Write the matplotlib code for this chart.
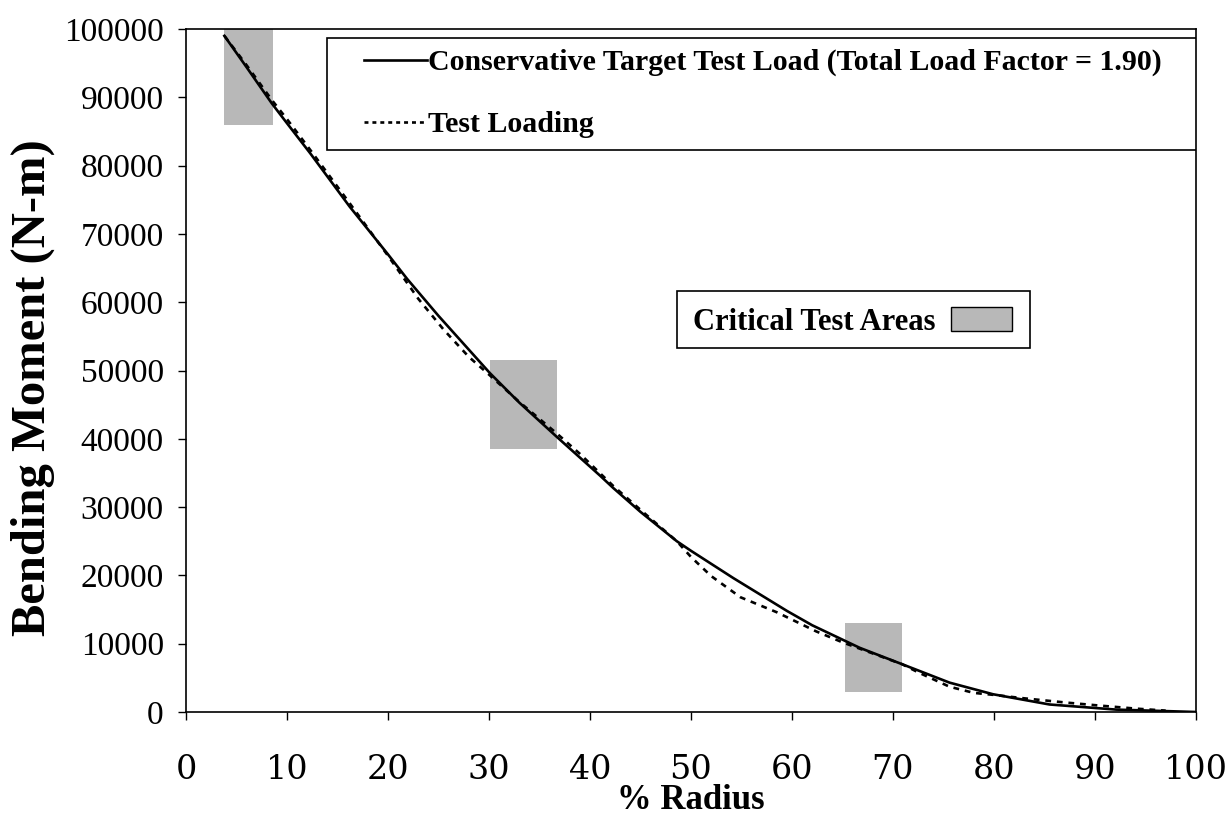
import matplotlib
matplotlib.use("Agg")
import matplotlib.pyplot as plt
from matplotlib.lines import Line2D
from matplotlib.patches import Patch, Rectangle

plt.rcParams["font.family"] = ["Liberation Serif", "DejaVu Serif"]

# Conservative target test load (solid)
target_radius = [3.8, 6, 8.5, 10, 12.3, 16.2, 20, 21.9, 25, 30.1, 33, 36.7, 41, 42.3,
                 45, 48.6, 50, 54.2, 59.5, 62, 66.7, 70.9, 75.6, 79.9, 85.5, 92.1, 100]
target_moment = [99000, 94400, 89100, 86200, 81800, 74000, 67000, 63400, 58000, 49600,
                 45300, 40300, 34600, 32800, 29300, 25000, 23600, 19600, 14800, 12700,
                 9400, 7000, 4300, 2600, 1100, 350, 0]

# Test loading (dashed)
test_radius = [3.8, 6, 8.5, 10, 12.3, 16.2, 20, 23, 25.5, 28, 30, 33, 36.7, 39, 42.3,
               45, 48.6, 50, 52, 54.9, 58.5, 62.4, 65, 70.9, 72.5, 75.6, 78, 80, 83,
               87, 90, 94, 97]
test_moment = [99000, 94700, 89600, 86800, 82300, 74500, 66800, 60500, 56000, 52000,
               49400, 45400, 40800, 37800, 33100, 29600, 25000, 22700, 19900, 16800,
               14600, 11800, 10200, 7000, 5800, 3700, 2800, 2500, 2000, 1400, 1000,
               500, 200]

# Critical test areas (x from, x to, y from, y to)
area_x0 = [3.8, 30.1, 65.2]
area_x1 = [8.6, 36.7, 70.9]
area_y0 = [86000, 38500, 3000]
area_y1 = [100000, 51500, 13000]

x_ticks = list(range(0, 101, 10))
y_ticks = list(range(0, 100001, 10000))

AREA_COLOR = "#b8b8b8"
AX_L, AX_T, AX_W, AX_H = 186, 29, 1010, 683   # axes box in pixels


def ax_frac(px, py):
    return (px - AX_L) / AX_W, (AX_T + AX_H - py) / AX_H


fig = plt.figure(figsize=(12.3, 8.16), dpi=100)
ax = fig.add_axes([AX_L / 1230, 1 - (AX_T + AX_H) / 816, AX_W / 1230, AX_H / 816])

for x0, x1, y0, y1 in zip(area_x0, area_x1, area_y0, area_y1):
    ax.bar(x0, y1 - y0, width=x1 - x0, bottom=y0, align="edge",
           color=AREA_COLOR, edgecolor="none", zorder=1)

ax.plot(target_radius, target_moment, color="black", linewidth=1.9, zorder=3)
ax.plot(test_radius, test_moment, color="black", linewidth=1.9,
        linestyle=(0, (2.2, 2.2)), zorder=2)

ax.set_xlim(0, 100)
ax.set_ylim(0, 100000)
ax.set_xticks(x_ticks)
ax.set_yticks(y_ticks)
ax.tick_params(axis="both", direction="out", length=6, width=1, color="black")
ax.tick_params(axis="x", pad=24)
ax.tick_params(axis="y", pad=10)
for lab in ax.get_xticklabels():
    lab.set_fontfamily("DejaVu Serif")
    lab.set_fontsize(24)
for lab in ax.get_yticklabels():
    lab.set_fontsize(24)
for sp in ax.spines.values():
    sp.set_linewidth(1.2)

ax.set_xlabel("% Radius", fontsize=25, fontweight="bold")
ax.xaxis.set_label_coords(*ax_frac(691, 784))
ax.set_ylabel("Bending Moment (N-m)", fontsize=35, fontweight="bold")
ax.yaxis.set_label_coords(*ax_frac(55, 388))

# legend for the two curves, with a hand-placed frame
x0f, y1f = ax_frac(327, 38)
x1f, y0f = ax_frac(1196, 150)
ax.add_patch(Rectangle((x0f, y0f), x1f - x0f, y1f - y0f, transform=ax.transAxes,
                       facecolor="white", edgecolor="black", linewidth=1.2, zorder=4))
line_handles = [
    Line2D([], [], color="black", linewidth=1.9),
    Line2D([], [], color="black", linewidth=1.9, linestyle=(0, (1.5, 1.5))),
]
leg1 = ax.legend(line_handles,
                 ["Conservative Target Test Load (Total Load Factor = 1.90)", "Test Loading"],
                 loc="upper left", bbox_to_anchor=ax_frac(364, 49), frameon=False,
                 prop={"weight": "bold", "size": 21.5}, handlelength=2.1,
                 handletextpad=0.05, borderaxespad=0, borderpad=0, labelspacing=1.17)
leg1.set_zorder(5)
ax.add_artist(leg1)

# legend for the critical test areas
x0f, y1f = ax_frac(677, 291)
x1f, y0f = ax_frac(1030, 348)
ax.add_patch(Rectangle((x0f, y0f), x1f - x0f, y1f - y0f, transform=ax.transAxes,
                       facecolor="white", edgecolor="black", linewidth=1.2, zorder=4))
leg2 = ax.legend([Patch(facecolor=AREA_COLOR, edgecolor="black", linewidth=1)],
                 ["Critical Test Areas"], loc="center left",
                 bbox_to_anchor=ax_frac(693, 322), markerfirst=False, frameon=False,
                 prop={"weight": "bold", "size": 22}, handlelength=2.0, handleheight=0.85,
                 handletextpad=0.5, borderaxespad=0, borderpad=0)
leg2.set_zorder(5)

fig.savefig("out.png", dpi=100)
